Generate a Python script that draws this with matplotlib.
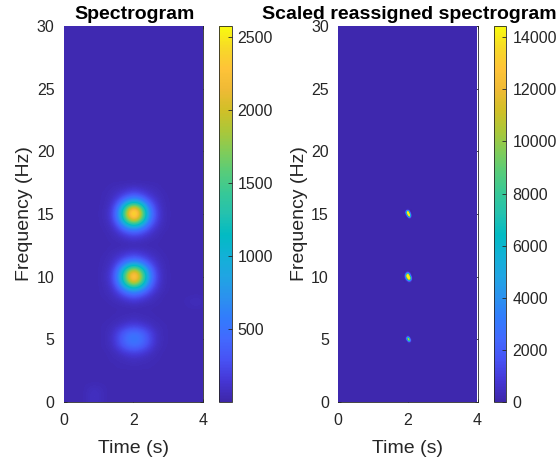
import numpy as np
import matplotlib
matplotlib.use('Agg')
import matplotlib.pyplot as plt
from matplotlib.colors import LinearSegmentedColormap
from matplotlib.patches import Rectangle

plt.rcParams['font.family'] = ['Liberation Sans', 'DejaVu Sans']

# parula colormap, sampled
parula = LinearSegmentedColormap.from_list('parula', [
    (0.2422, 0.1504, 0.6603), (0.2706, 0.2147, 0.8364), (0.2810, 0.3228, 0.9579),
    (0.2602, 0.4123, 0.9952), (0.1963, 0.4847, 0.9892), (0.1687, 0.5703, 0.9359),
    (0.1248, 0.6459, 0.8883), (0.0689, 0.6948, 0.8394), (0.0067, 0.7312, 0.7660),
    (0.1408, 0.7584, 0.6842), (0.2161, 0.7843, 0.5923), (0.3406, 0.8008, 0.4789),
    (0.5044, 0.7993, 0.3480), (0.6720, 0.7793, 0.2227), (0.8203, 0.7498, 0.1535),
    (0.9393, 0.7288, 0.2100), (0.9970, 0.7659, 0.2199), (0.9676, 0.8530, 0.1535),
    (0.9763, 0.9831, 0.0538)])

# Left panel: grid samples, background level and the patches
spec_t = np.arange(0, 4.01, 0.2)
spec_f = np.arange(0, 30.01, 0.5)
spec_background = 40

# columns are t = 1.2 ... 2.8, rows go from high to low frequency
spec_patch_t = [1.2, 1.4, 1.6, 1.8, 2.0, 2.2, 2.4, 2.6, 2.8]
spec_peak_15 = [
    [40, 60, 80, 110, 140, 110, 80, 60, 40],
    [50, 80, 150, 260, 340, 260, 150, 90, 50],
    [50, 120, 340, 740, 980, 740, 340, 150, 60],
    [60, 180, 680, 1680, 2300, 1640, 660, 220, 70],
    [70, 220, 860, 2080, 2800, 2000, 820, 270, 80],
    [60, 180, 690, 1620, 2200, 1580, 660, 230, 70],
    [50, 110, 340, 740, 940, 720, 340, 140, 60],
    [40, 70, 150, 260, 320, 260, 150, 80, 40],
    [40, 50, 70, 100, 130, 100, 70, 50, 40],
]
spec_peak_10 = [
    [40, 60, 80, 110, 140, 110, 80, 60, 40],
    [50, 90, 160, 260, 330, 260, 160, 90, 50],
    [60, 120, 340, 730, 940, 730, 350, 150, 60],
    [70, 190, 690, 1600, 2150, 1570, 680, 220, 70],
    [80, 230, 850, 1960, 2620, 1920, 830, 270, 80],
    [70, 190, 690, 1570, 2100, 1540, 680, 220, 70],
    [60, 120, 360, 750, 950, 730, 360, 150, 60],
    [50, 80, 160, 280, 350, 270, 160, 80, 40],
    [40, 50, 70, 100, 130, 100, 70, 50, 40],
]
spec_peak_5 = [
    [40, 40, 50, 50, 60, 50, 50, 40, 40],
    [40, 50, 60, 80, 100, 80, 60, 50, 40],
    [50, 70, 130, 200, 240, 200, 130, 70, 50],
    [50, 110, 260, 420, 490, 420, 260, 110, 50],
    [50, 120, 300, 490, 570, 490, 300, 120, 50],
    [50, 100, 250, 400, 470, 400, 250, 100, 50],
    [40, 60, 120, 190, 230, 190, 120, 60, 40],
    [40, 50, 60, 80, 100, 80, 60, 50, 40],
    [40, 40, 50, 50, 60, 50, 50, 40, 40],
]
spec_smudge_t = [0.8, 1.0]
spec_smudge = [[80, 70], [95, 80], [90, 70]]
spec_speck_t = [3.6, 3.8]
spec_speck = [[60, 85]]

# Right panel: very small reassigned spots
rs_t = np.arange(0, 4.01, 0.03)
rs_f = np.arange(0, 30.01, 0.1)
rs_background = 150

rs_spot_15_t = [1.92, 1.95, 1.98, 2.01, 2.04, 2.07, 2.10]
rs_spot_15 = [
    [0, 500, 1500, 800, 0, 0, 0],
    [400, 5000, 16000, 12000, 1500, 0, 0],
    [600, 7000, 18000, 18000, 6000, 400, 0],
    [200, 3000, 13000, 18000, 13000, 1200, 0],
    [0, 600, 5000, 17000, 18000, 3500, 200],
    [0, 0, 1000, 6000, 12000, 2400, 0],
    [0, 0, 0, 600, 1500, 400, 0],
]
rs_spot_10_t = [1.89, 1.92, 1.95, 1.98, 2.01, 2.04, 2.07, 2.10, 2.13]
rs_spot_10 = [
    [0, 0, 200, 500, 300, 100, 0, 0, 0],
    [0, 300, 1500, 4000, 3000, 1000, 100, 0, 0],
    [100, 1200, 7000, 15000, 13000, 4000, 600, 0, 0],
    [200, 2500, 13000, 15000, 15000, 9000, 1500, 100, 0],
    [200, 2800, 12000, 15000, 15000, 15000, 5000, 500, 0],
    [100, 1500, 6000, 15000, 15000, 15000, 9000, 800, 0],
    [0, 500, 2200, 8000, 15000, 15000, 7000, 800, 0],
    [0, 100, 500, 2000, 5000, 6000, 2500, 400, 0],
    [0, 0, 0, 200, 800, 900, 400, 0, 0],
]
rs_spot_5_t = [1.96, 1.99, 2.02, 2.05, 2.08]
rs_spot_5 = [
    [300, 2500, 1500, 200, 0],
    [1500, 10000, 12000, 2000, 100],
    [1000, 7000, 15000, 8000, 600],
    [100, 1500, 9000, 10000, 1200],
    [0, 100, 1000, 1500, 200],
]

spec_vmin, spec_vmax = 3, 2575
rs_vmin, rs_vmax = 0, 14430
spec_ticks = [500, 1000, 1500, 2000, 2500]
rs_ticks = [0, 2000, 4000, 6000, 8000, 10000, 12000, 14000]
time_ticks = [0, 2, 4]
freq_ticks = [0, 5, 10, 15, 20, 25, 30]


def place(grid, t, f, patch_t, f_center, table):
    # table is written top row first, so the highest frequency comes first
    table = np.array(table, dtype=float)
    n = table.shape[0]
    f_step = f[1] - f[0]
    i0 = int(round(f_center / f_step)) - n // 2
    j0 = int(np.argmin(np.abs(t - patch_t[0])))
    grid[i0:i0 + n, j0:j0 + table.shape[1]] = np.flipud(table)


spec = np.full((len(spec_f), len(spec_t)), float(spec_background))
place(spec, spec_t, spec_f, spec_patch_t, 15, spec_peak_15)
place(spec, spec_t, spec_f, spec_patch_t, 10, spec_peak_10)
place(spec, spec_t, spec_f, spec_patch_t, 5, spec_peak_5)
place(spec, spec_t, spec_f, spec_smudge_t, 0.5, spec_smudge)
place(spec, spec_t, spec_f, spec_speck_t, 8.0, spec_speck)

rs = np.full((len(rs_f), len(rs_t)), float(rs_background))
place(rs, rs_t, rs_f, rs_spot_15_t, 15, rs_spot_15)
place(rs, rs_t, rs_f, rs_spot_10_t, 10, rs_spot_10)
place(rs, rs_t, rs_f, rs_spot_5_t, 5, rs_spot_5)

W, H = 558, 462
fig = plt.figure(figsize=(W / 100, H / 100), dpi=100)
grey = '#262626'


def panel(x0, cx0, title, t, f, z, vmin, vmax, cticks):
    ax = fig.add_axes([x0 / W, (H - 402) / H, 139.5 / W, 376 / H])
    dt, df = t[1] - t[0], f[1] - f[0]
    im = ax.imshow(z, origin='lower', aspect='auto', cmap=parula, vmin=vmin, vmax=vmax,
                   extent=[t[0] - dt / 2, t[-1] + dt / 2, f[0] - df / 2, f[-1] + df / 2],
                   interpolation='bicubic', interpolation_stage='data', zorder=3)
    # the image stops just short of the right edge
    im.set_clip_path(Rectangle((0, 0), 3.96, 30, transform=ax.transData))
    ax.set_xlim(0, 4)
    ax.set_ylim(0, 30)
    ax.set_xticks(time_ticks)
    ax.set_yticks(freq_ticks)
    ax.tick_params(direction='in', length=2.5, width=0.6, top=True, right=True,
                   labelsize=11.5, colors=grey)
    ax.tick_params(axis='x', pad=8)
    ax.tick_params(axis='y', pad=6.5)
    for s in ax.spines.values():
        s.set_linewidth(0.6)
        s.set_color(grey)
    ax.set_xlabel('Time (s)', fontsize=14, color=grey, labelpad=8.5)
    ax.set_ylabel('Frequency (Hz)', fontsize=14, color=grey, labelpad=2.5)
    t_obj = ax.set_title(title, fontsize=14, fontweight='bold', color='black', pad=5)
    t_obj.set_x(0.5 + 1.5 / 139.5)

    cax = fig.add_axes([cx0 / W, (H - 402) / H, 12.5 / W, 376 / H])
    cb = fig.colorbar(im, cax=cax)
    cb.set_ticks(cticks)
    cax.tick_params(direction='in', length=3, width=0.6, labelsize=11.5, colors=grey, pad=4.5)
    cb.outline.set_linewidth(0.6)
    cb.outline.set_edgecolor(grey)


panel(63.5, 219, 'Spectrogram', spec_t, spec_f, spec, spec_vmin, spec_vmax, spec_ticks)
panel(338, 493.5, 'Scaled reassigned spectrogram', rs_t, rs_f, rs, rs_vmin, rs_vmax, rs_ticks)

fig.savefig('out.png', dpi=100)
